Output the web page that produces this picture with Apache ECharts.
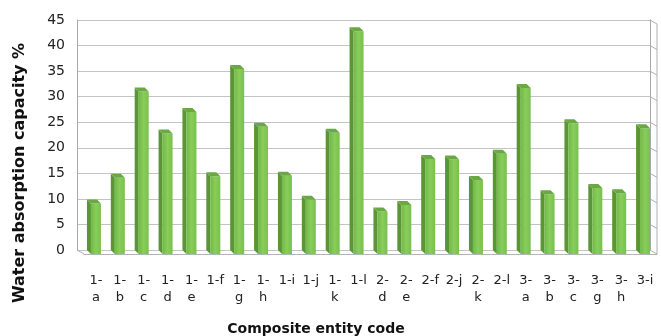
<!DOCTYPE html>
<html>
<head>
<meta charset="utf-8">
<script src="https://cdn.jsdelivr.net/npm/echarts@6/dist/echarts.min.js"></script>
<style>
  html, body { margin: 0; padding: 0; background: #ffffff; }
  #chart { width: 661px; height: 336px; }
</style>
</head>
<body>
<div id="chart"></div>
<script>
// Composite entity codes and their water absorption capacity (%)
const categories = ['1-a', '1-b', '1-c', '1-d', '1-e', '1-f', '1-g', '1-h', '1-i', '1-j', '1-k', '1-l',
                    '2-d', '2-e', '2-f', '2-j', '2-k', '2-l', '3-a', '3-b', '3-c', '3-g', '3-h', '3-i'];
const absorption = [9.9, 14.9, 31.8, 23.6, 27.8, 15.2, 36.2, 24.9, 15.3, 10.6, 23.7, 43.6,
                    8.3, 9.6, 18.6, 18.5, 14.5, 19.6, 32.5, 11.7, 25.6, 12.9, 11.9, 24.6];
const yMin = 0;
const yMax = 45;
const yStep = 5;

const FONT = 'DejaVu Sans';

// Back wall of the pseudo-3D box and the front plane the columns stand on
const back = { left: 77, top: 20, right: 650, bottom: 250 };
const depth = { dx: 7, dy: 4 };
const front = {
  left: back.left + depth.dx, top: back.top + depth.dy,
  right: back.right + depth.dx, bottom: back.bottom + depth.dy
};

// Column geometry: front face half-width and the receding side/top offset
const BAR_HALF = 5, BAR_DX = 4, BAR_DY = 4;

// Wrap a code after its dash when it is too wide for one category slot
const measureCtx = document.createElement('canvas').getContext('2d');
measureCtx.font = '13px "' + FONT + '"';
function wrapCode(code) {
  return measureCtx.measureText(code).width > 19 ? code.replace('-', '-\n') : code;
}

const faceGradient = new echarts.graphic.LinearGradient(0, 0, 1, 0, [
  { offset: 0, color: '#72b946' },
  { offset: 0.5, color: '#89cd5b' },
  { offset: 1, color: '#79c04d' }
]);

function renderColumn(params, api) {
  const base = api.coord([api.value(0), 0]);
  const top = api.coord([api.value(0), api.value(1)]);
  const xl = base[0] - BAR_HALF, xr = base[0] + BAR_HALF;
  const yb = base[1], yt = top[1];
  return {
    type: 'group',
    children: [
      { type: 'polygon',
        shape: { points: [[xl, yb], [xl, yt], [xl - BAR_DX, yt - BAR_DY], [xl - BAR_DX, yb - BAR_DY]] },
        style: { fill: '#5a9636' } },
      { type: 'rect',
        shape: { x: xl, y: yt, width: xr - xl, height: yb - yt },
        style: { fill: faceGradient } },
      { type: 'polygon',
        shape: { points: [[xl, yt], [xr, yt], [xr - BAR_DX, yt - BAR_DY], [xl - BAR_DX, yt - BAR_DY]] },
        style: { fill: '#69a842' } }
    ]
  };
}

const chart = echarts.init(document.getElementById('chart'), null, { renderer: 'canvas' });

chart.setOption({
  animation: false,
  backgroundColor: '#ffffff',
  grid: [
    { left: back.left, top: back.top, width: back.right - back.left, height: back.bottom - back.top },
    { left: front.left, top: front.top, width: front.right - front.left, height: front.bottom - front.top }
  ],
  xAxis: [
    { gridIndex: 0, type: 'category', data: categories, show: false },
    {
      gridIndex: 1, type: 'category', data: categories,
      axisLine: { show: true, lineStyle: { color: '#b4b4b4', width: 1 } },
      axisTick: { show: false },
      axisLabel: {
        interval: 0, fontSize: 13, fontFamily: FONT, color: '#222222',
        lineHeight: 17, margin: 18, formatter: wrapCode
      }
    }
  ],
  yAxis: [
    {
      gridIndex: 0, type: 'value', min: yMin, max: yMax, interval: yStep,
      axisLine: { show: true, lineStyle: { color: '#a8a8a8' } },
      axisTick: { show: false },
      axisLabel: { fontSize: 14, fontFamily: FONT, color: '#222222', margin: 12 },
      splitLine: { lineStyle: { color: '#c4c4c4', width: 1 } }
    },
    {
      gridIndex: 1, type: 'value', min: yMin, max: yMax, interval: yStep, show: false,
      splitLine: { show: false }
    },
    {
      gridIndex: 0, type: 'value', position: 'right', min: yMin, max: yMax, interval: yStep,
      axisLine: { show: true, lineStyle: { color: '#a8a8a8' } },
      axisTick: { show: false }, axisLabel: { show: false }, splitLine: { show: false }
    }
  ],
  series: [
    {
      type: 'custom',
      xAxisIndex: 1, yAxisIndex: 1,
      renderItem: renderColumn,
      encode: { x: 0, y: 1 },
      data: categories.map((c, i) => [i, absorption[i]])
    }
  ]
});

// Side wall, floor corner and axis titles
const frame = [];
for (let v = yMin; v <= yMax; v += yStep) {
  const y = chart.convertToPixel({ yAxisIndex: 0 }, v);
  frame.push({
    type: 'line', silent: true,
    shape: { x1: back.right, y1: y, x2: front.right, y2: y + depth.dy },
    style: { stroke: '#b0b0b0', lineWidth: 1 }
  });
}
frame.push({
  type: 'line', silent: true,
  shape: { x1: front.right, y1: front.top, x2: front.right, y2: front.bottom },
  style: { stroke: '#b0b0b0', lineWidth: 1 }
});
frame.push({
  type: 'line', silent: true,
  shape: { x1: back.left, y1: back.bottom, x2: front.left, y2: front.bottom },
  style: { stroke: '#b0b0b0', lineWidth: 1 }
});
frame.push({
  type: 'text', silent: true,
  x: 20, y: 173, rotation: Math.PI / 2,
  style: {
    text: 'Water absorption capacity %', fill: '#111111',
    font: 'bold 16px "' + FONT + '"', align: 'center', verticalAlign: 'middle'
  }
});
frame.push({
  type: 'text', silent: true,
  x: 316, y: 329,
  style: {
    text: 'Composite entity code', fill: '#111111',
    font: 'bold 14px "' + FONT + '"', align: 'center', verticalAlign: 'middle'
  }
});
chart.setOption({ graphic: frame });
</script>
</body>
</html>
